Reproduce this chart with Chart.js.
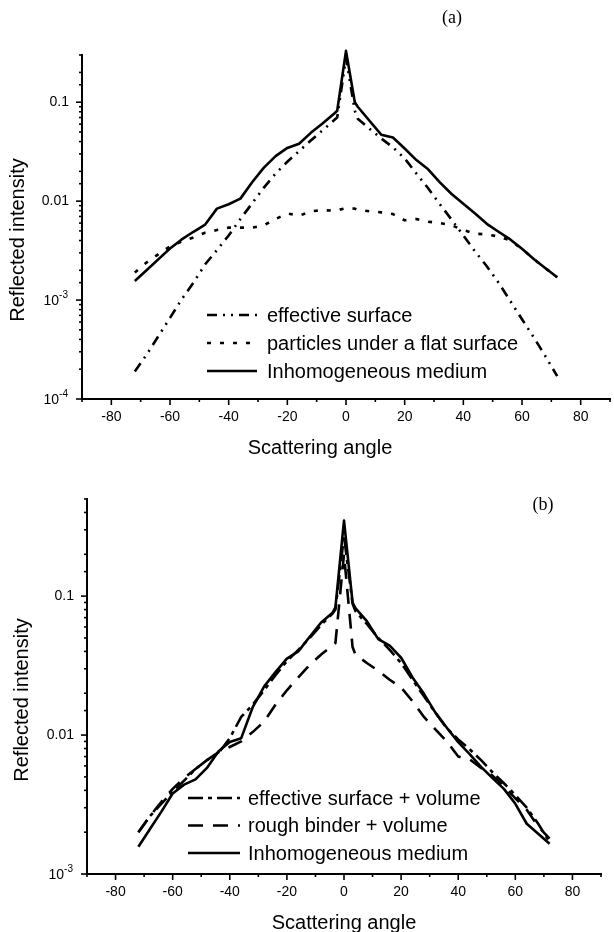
<!DOCTYPE html>
<html>
<head>
<meta charset="utf-8">
<script src="https://cdn.jsdelivr.net/npm/chart.js@4"></script>
<style>
html, body { margin: 0; padding: 0; background: #fff; overflow: hidden; width: 614px; height: 932px; }
.panel { position: absolute; left: 0; width: 620px; height: 466px; }
#panelA { top: 0; }
#panelB { top: 466px; }
</style>
</head>
<body>
<div class="panel" id="panelA"><canvas id="chartA" width="620" height="466"></canvas></div>
<div class="panel" id="panelB"><canvas id="chartB" width="620" height="466"></canvas></div>
<script>
// scattering angles (deg), shared by every curve
const angles = [-72,-68,-64,-60,-56,-52,-48,-44,-40,-36,-32,-28,-24,-20,-16,-12,-8,-4,-3,0,3,4,8,12,16,20,24,28,32,36,40,44,48,52,56,60,64,68,72];

// panel (a)
const effSurfA = [0.00019,0.00028,0.00043,0.00066,0.00102,0.0015,0.0023,0.0032,0.0045,0.0066,0.0095,0.0137,0.019,0.025,0.032,0.041,0.052,0.066,0.070,0.28,0.082,0.068,0.054,0.043,0.035,0.027,0.019,0.0135,0.0093,0.0065,0.0045,0.0031,0.0022,0.0015,0.00098,0.00064,0.00042,0.00027,0.00017];
const particlesA = [0.0019,0.0024,0.0029,0.0035,0.0039,0.0043,0.0048,0.0051,0.0054,0.0054,0.0054,0.0057,0.0066,0.0075,0.0071,0.0079,0.0081,0.0080,0.0081,0.0085,0.0084,0.0082,0.0079,0.0077,0.0074,0.0064,0.0066,0.0062,0.006,0.0057,0.0051,0.0047,0.0046,0.0044,0.004,0.0033,0.0026,0.0021,0.0017];
const inhomA = [0.00156,0.0020,0.00258,0.00332,0.0041,0.0049,0.0058,0.0084,0.0093,0.0106,0.0155,0.0218,0.0285,0.0345,0.038,0.049,0.061,0.077,0.082,0.33,0.100,0.09,0.065,0.047,0.044,0.034,0.026,0.021,0.0155,0.0118,0.0094,0.0075,0.0059,0.0049,0.0041,0.0033,0.0026,0.0021,0.0017];

// panel (b)
const effVolB = [0.0020,0.0026,0.0032,0.0039,0.0047,0.0057,0.0066,0.0074,0.0095,0.0135,0.0165,0.021,0.027,0.034,0.041,0.05,0.062,0.075,0.080,0.27,0.088,0.078,0.063,0.05,0.041,0.033,0.025,0.019,0.0145,0.0112,0.0093,0.0079,0.0066,0.0054,0.0045,0.0037,0.0030,0.0023,0.0017];
const roughB = [0.0020,0.0026,0.0033,0.0041,0.0049,0.0057,0.0066,0.0075,0.0082,0.0090,0.0105,0.0125,0.0165,0.021,0.026,0.032,0.038,0.044,0.046,0.20,0.043,0.038,0.033,0.029,0.025,0.022,0.0175,0.0135,0.011,0.009,0.007,0.0067,0.0058,0.0051,0.0043,0.0035,0.0029,0.0022,0.0018];
const inhomB = [0.00157,0.0021,0.0028,0.0038,0.0044,0.0048,0.0058,0.0076,0.0089,0.0095,0.0158,0.0223,0.0284,0.0355,0.040,0.051,0.0646,0.076,0.083,0.35,0.090,0.082,0.066,0.049,0.044,0.036,0.026,0.0198,0.0145,0.0113,0.0089,0.0073,0.0059,0.0049,0.0041,0.0032,0.0023,0.00195,0.00165];

// tick labels ('^' marks a superscript exponent)
const xLabelVals = [-80,-60,-40,-20,0,20,40,60,80];
const yLabelValsA = [1e-4, 1e-3, 0.01, 0.1];
const yLabelsA = ['10^-4', '10^-3', '0.01', '0.1'];
const yLabelValsB = [1e-3, 0.01, 0.1];
const yLabelsB = ['10^-3', '0.01', '0.1'];

const FONT = '"Liberation Sans", Arial, Helvetica, sans-serif';
Chart.defaults.font.family = FONT;
Chart.defaults.color = '#000';

const pts = (vals) => angles.map((a, i) => ({ x: a, y: vals[i] }));
const isDecade = (v) => Math.abs(Math.log10(v) - Math.round(Math.log10(v))) < 1e-6;
const sameVal = (a, b) => Math.abs(Math.log10(a) - Math.log10(b)) < 1e-6;

function line(label, vals, dash) {
  return {
    label, data: pts(vals), borderColor: '#000', borderWidth: 2.6, borderDash: dash,
    pointRadius: 0, tension: 0, fill: false, clip: false, borderJoinStyle: 'round'
  };
}

// ticks, power labels, titles, inner legend and panel tag
const paperPlugin = {
  id: 'paper',
  afterDraw(chart, args, o) {
    const ctx = chart.ctx;
    const xs = chart.scales.x, ys = chart.scales.y;
    ctx.save();
    ctx.strokeStyle = '#000';
    ctx.fillStyle = '#000';
    ctx.lineWidth = 1.6;
    xs.ticks.forEach(t => {
      const px = xs.getPixelForValue(t.value);
      const len = (t.value % 20 === 0 && Math.abs(t.value) < 90) ? 6 : 3;
      ctx.beginPath(); ctx.moveTo(px, xs.top); ctx.lineTo(px, xs.top + len); ctx.stroke();
    });
    ys.ticks.forEach(t => {
      const py = ys.getPixelForValue(t.value);
      const len = isDecade(t.value) ? 6 : 3;
      ctx.beginPath(); ctx.moveTo(ys.right, py); ctx.lineTo(ys.right - len, py); ctx.stroke();
    });

    // powers of ten with a raised exponent
    ctx.textBaseline = 'middle';
    o.yVals.forEach((v, i) => {
      const lab = o.yLabels[i];
      if (!lab.includes('^')) return;
      const [base, exp] = lab.split('^');
      const py = ys.getPixelForValue(v);
      const xr = ys.right - 14;
      ctx.font = '10px ' + FONT;
      ctx.textAlign = 'right';
      const ew = ctx.measureText(exp).width;
      ctx.fillText(exp, xr, py - 5);
      ctx.font = '14px ' + FONT;
      ctx.fillText(base, xr - ew, py + 1);
    });

    ctx.font = '20px ' + FONT;
    ctx.textAlign = 'center';
    ctx.fillText('Scattering angle', o.xTitle[0], o.xTitle[1]);
    ctx.save();
    ctx.translate(o.yTitle[0], o.yTitle[1]);
    ctx.rotate(-Math.PI / 2);
    ctx.fillText('Reflected intensity', 0, 0);
    ctx.restore();

    ctx.font = '18px "Liberation Serif", "Times New Roman", serif';
    ctx.fillText(o.tag, o.tagPos[0], o.tagPos[1]);

    ctx.font = '20px ' + FONT;
    ctx.textAlign = 'left';
    chart.data.datasets.forEach((ds, i) => {
      const y = o.legendY + i * o.legendGap;
      ctx.lineWidth = ds.borderWidth;
      ctx.setLineDash(ds.borderDash || []);
      ctx.beginPath(); ctx.moveTo(o.legendX[0], y); ctx.lineTo(o.legendX[1], y); ctx.stroke();
      ctx.setLineDash([]);
      ctx.fillText(ds.label, o.legendX[2], y + 1);
    });
    ctx.restore();
  }
};

function makeChart(id, datasets, yMin, yMax, yVals, yLabels, box, paper) {
  paper.yVals = yVals;
  paper.yLabels = yLabels;
  return new Chart(document.getElementById(id), {
    type: 'line',
    data: { datasets },
    options: {
      responsive: false, devicePixelRatio: 1, animation: false,
      layout: { padding: { top: box.top, right: box.right, bottom: 0, left: 0 } },
      plugins: { legend: { display: false }, tooltip: { enabled: false }, paper },
      scales: {
        x: {
          type: 'linear', min: -90, max: 90,
          grid: { display: false, drawTicks: false },
          border: { display: true, color: '#000', width: 2 },
          ticks: {
            stepSize: 10, padding: 10, maxRotation: 0, autoSkip: false,
            font: { size: 14 },
            callback: (v) => xLabelVals.includes(v) ? String(v) : ''
          },
          afterFit: (s) => { s.height = box.xh; }
        },
        y: {
          type: 'logarithmic', min: yMin, max: yMax,
          grid: { display: false, drawTicks: false },
          border: { display: true, color: '#000', width: 2 },
          ticks: {
            padding: 13, autoSkip: false, font: { size: 14 },
            callback: (v) => {
              const i = yVals.findIndex(t => sameVal(t, v));
              return (i >= 0 && !yLabels[i].includes('^')) ? yLabels[i] : '';
            }
          },
          afterFit: (s) => { s.width = box.yw; }
        }
      }
    },
    plugins: [paperPlugin]
  });
}

makeChart('chartA', [
  line('effective surface', effSurfA, [10, 6, 2, 6, 2, 6]),
  line('particles under a flat surface', particlesA, [4, 9]),
  line('Inhomogeneous medium', inhomA, [])
], 1e-4, 0.3, yLabelValsA, yLabelsA,
  { top: 55, right: 4, xh: 67, yw: 82 },
  { xTitle: [320, 448], yTitle: [18, 240], tag: '(a)', tagPos: [452, 18],
    legendX: [207, 257, 267], legendY: 315, legendGap: 28 });

makeChart('chartB', [
  line('effective surface + volume', effVolB, [15, 5, 4, 5]),
  line('rough binder + volume', roughB, [15, 10]),
  line('Inhomogeneous medium', inhomB, [])
], 1e-3, 0.5, yLabelValsB, yLabelsB,
  { top: 33, right: 19, xh: 58, yw: 87 },
  { xTitle: [344, 457], yTitle: [22, 234], tag: '(b)', tagPos: [543, 39],
    legendX: [188, 240, 248], legendY: 332, legendGap: 27.5 });
</script>
</body>
</html>
